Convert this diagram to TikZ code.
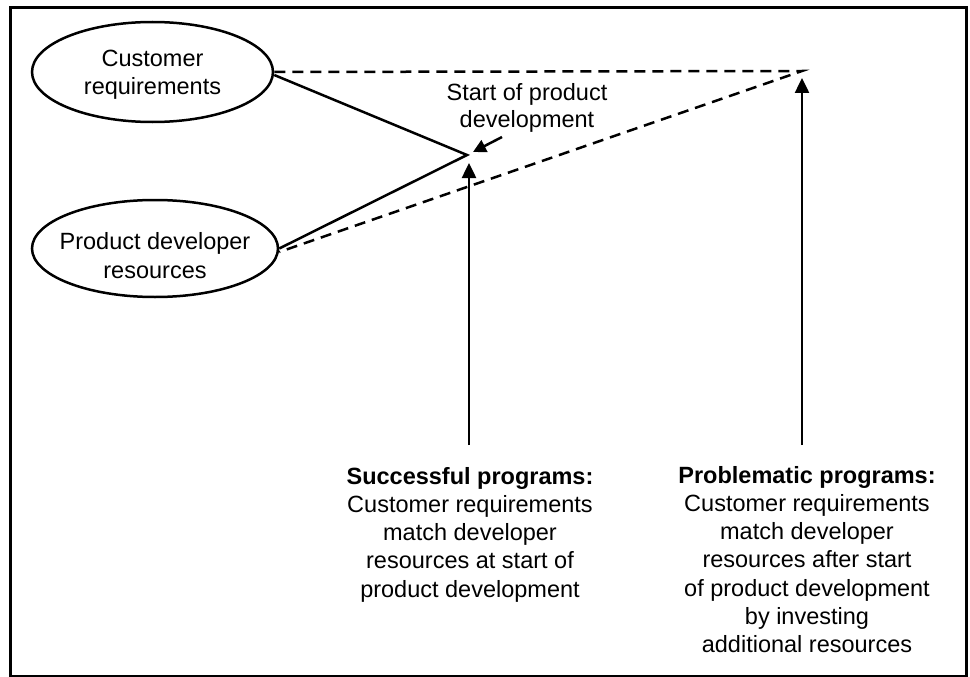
\documentclass[tikz,border=0pt]{standalone}
\usepackage{fontspec}
\setmainfont{Liberation Sans}
\usetikzlibrary{arrows.meta,shapes.geometric}
\begin{document}
\begin{tikzpicture}[x=1pt,y=-1pt,
  lw/.style={line width=2.5pt},
  frame/.style={line width=3pt},
  oval/.style={ellipse,draw,lw,inner sep=0pt},
  lbl/.style={align=center,font=\fontsize{23.5}{28.3}\selectfont,inner sep=0pt},
  solidline/.style={lw},
  dashline/.style={lw,dash pattern=on 11pt off 7pt},
  arr/.style={lw,-{Triangle[length=15pt,width=14pt]}},
  arrsmall/.style={lw,-{Triangle[length=13pt,width=13pt]}},
]
\useasboundingbox (0,0) rectangle (970,677);
\draw[frame] (10,8) rectangle (966,676);

\node[oval, minimum width=241pt, minimum height=100pt,
  label={[lbl,yshift=-3pt]center:{Customer\\requirements}}] (cr) at (152.5,72) {};
\node[oval, minimum width=246pt, minimum height=97pt,
  label={[lbl,yshift=-7pt]center:{Product developer\\resources}}] (pd) at (155,248.5) {};

\coordinate (apex) at (467,155);
\coordinate (far) at (802,71);
\coordinate (tip1) at (469,163);
\coordinate (tip2) at (802,78);
\coordinate (base1) at (469,445);
\coordinate (base2) at (802,445);
\coordinate (sa) at (502,137);
\coordinate (sb) at (473,152);

\node[lbl, font=\fontsize{23.5}{27}\selectfont, anchor=base] (start) at (527,128) {Start of product\\development};
\node[lbl, anchor=base] (succ) at (470,597.2) {\textbf{Successful programs:}\\Customer requirements\\match developer\\resources at start of\\product development};
\node[lbl, anchor=base] (prob) at (807,652.8) {\textbf{Problematic programs:}\\Customer requirements\\match developer\\resources after start\\of product development\\by investing\\additional resources};

\draw[solidline] ([yshift=-3pt]cr.east) -- (apex) -- (pd.east);
\draw[dashline] (cr.east) -- (far) -- ([yshift=-3.5pt]pd.east);

\draw[arr] (base1) -- (tip1);
\draw[arr] (base2) -- (tip2);
\draw[arrsmall] (sa) -- (sb);
\end{tikzpicture}
\end{document}
